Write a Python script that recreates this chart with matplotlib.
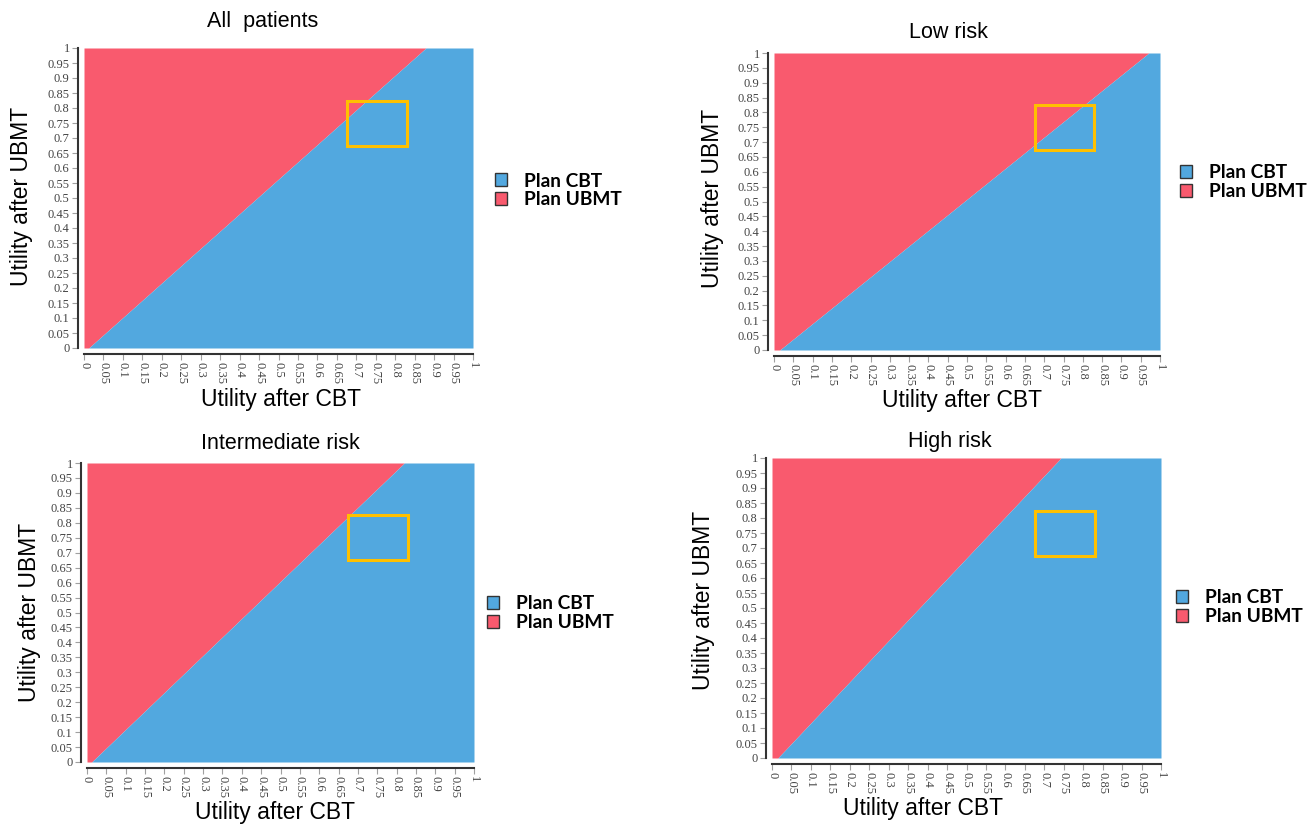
import numpy as np
import matplotlib.pyplot as plt
from matplotlib.patches import Patch, Rectangle

# panel titles and where the CBT / UBMT boundary crosses the bottom (y=0) and top (y=1)
titles = ['All  patients', 'Low risk', 'Intermediate risk', 'High risk']
cut_at_bottom = [0.012, 0.015, 0.012, 0.015]
cut_at_top = [0.879, 0.971, 0.82, 0.743]

# yellow box, same utility range in every panel
box_x = [0.675, 0.83]
box_y = [0.675, 0.825]

legend_labels = ['Plan CBT', 'Plan UBMT']
tick_values = [0, 0.05, 0.1, 0.15, 0.2, 0.25, 0.3, 0.35, 0.4, 0.45, 0.5,
               0.55, 0.6, 0.65, 0.7, 0.75, 0.8, 0.85, 0.9, 0.95, 1]
tick_labels = ['0', '0.05', '0.1', '0.15', '0.2', '0.25', '0.3', '0.35', '0.4', '0.45', '0.5',
               '0.55', '0.6', '0.65', '0.7', '0.75', '0.8', '0.85', '0.9', '0.95', '1']

BLUE = '#52A8DF'
RED = '#F95A6E'
YELLOW = '#FFC000'

W, H = 1316, 827
plt.rcParams['font.family'] = 'Liberation Serif'
fig = plt.figure(figsize=(W / 100, H / 100), dpi=100)


def px(x, y):
    # pixel position (from top left) -> figure fraction
    return x / W, 1 - y / H


# plot boxes in pixels: left, top, right, bottom
boxes = [(84, 48, 473, 348), (774, 53, 1160, 350),
         (87, 463, 474, 762), (772, 458, 1161, 758)]
title_pos = [(263, 22), (948, 32), (280, 443), (950, 442)]
xlabel_pos = [(281, 399), (962, 400), (275, 813), (923, 808)]
ylabel_pos = [(22, 196), (712, 198), (30, 612), (703, 600)]
legend_pos = [(495, 190.5), (1180, 182), (487, 613), (1176, 607)]

sans = 'Liberation Sans'

for i in range(4):
    l, t, r, b = boxes[i]
    ax = fig.add_axes([l / W, 1 - b / H, (r - l) / W, (b - t) / H])

    yy = np.array([0, 1])
    xx = np.array([cut_at_bottom[i], cut_at_top[i]])
    ax.fill_betweenx(yy, 0, xx, color=RED, lw=0)
    ax.fill_betweenx(yy, xx, 1, color=BLUE, lw=0)
    ax.add_patch(Rectangle((box_x[0], box_y[0]), box_x[1] - box_x[0], box_y[1] - box_y[0],
                           fill=False, edgecolor=YELLOW, lw=2.2, zorder=3))

    ax.set_xlim(0, 1)
    ax.set_ylim(0, 1)
    ax.set_xticks(tick_values)
    ax.set_yticks(tick_values)
    ax.set_xticklabels(tick_labels)
    ax.set_yticklabels(tick_labels)
    ax.tick_params(direction='out', length=4, width=0.8, color='#a0a0a0',
                   labelsize=9, labelcolor='#444444', pad=2)
    ax.tick_params(axis='x', labelrotation=-90)

    for side in ['top', 'right']:
        ax.spines[side].set_visible(False)
    for side in ['left', 'bottom']:
        ax.spines[side].set_position(('outward', 4.3))
        ax.spines[side].set_linewidth(1.5)
        ax.spines[side].set_color('#333333')

    fig.text(*px(*title_pos[i]), titles[i], family=sans, fontsize=15.5,
             ha='center', va='center')
    fig.text(*px(*xlabel_pos[i]), 'Utility after CBT', family=sans, fontsize=16.5,
             ha='center', va='center')
    fig.text(*px(*ylabel_pos[i]), 'Utility after UBMT', family=sans, fontsize=16.5,
             ha='center', va='center', rotation=90)

    handles = [Patch(facecolor=BLUE, edgecolor='#333333', lw=1.0),
               Patch(facecolor=RED, edgecolor='#333333', lw=1.0)]
    fig.legend(handles, legend_labels, loc='center left', bbox_to_anchor=px(*legend_pos[i]),
               frameon=False, borderpad=0, borderaxespad=0, handlelength=0.65,
               handleheight=0.65, handletextpad=0.85, labelspacing=0.1,
               prop={'family': 'Lato', 'weight': 'bold', 'size': 13.8})

fig.savefig('out.png', dpi=100)
